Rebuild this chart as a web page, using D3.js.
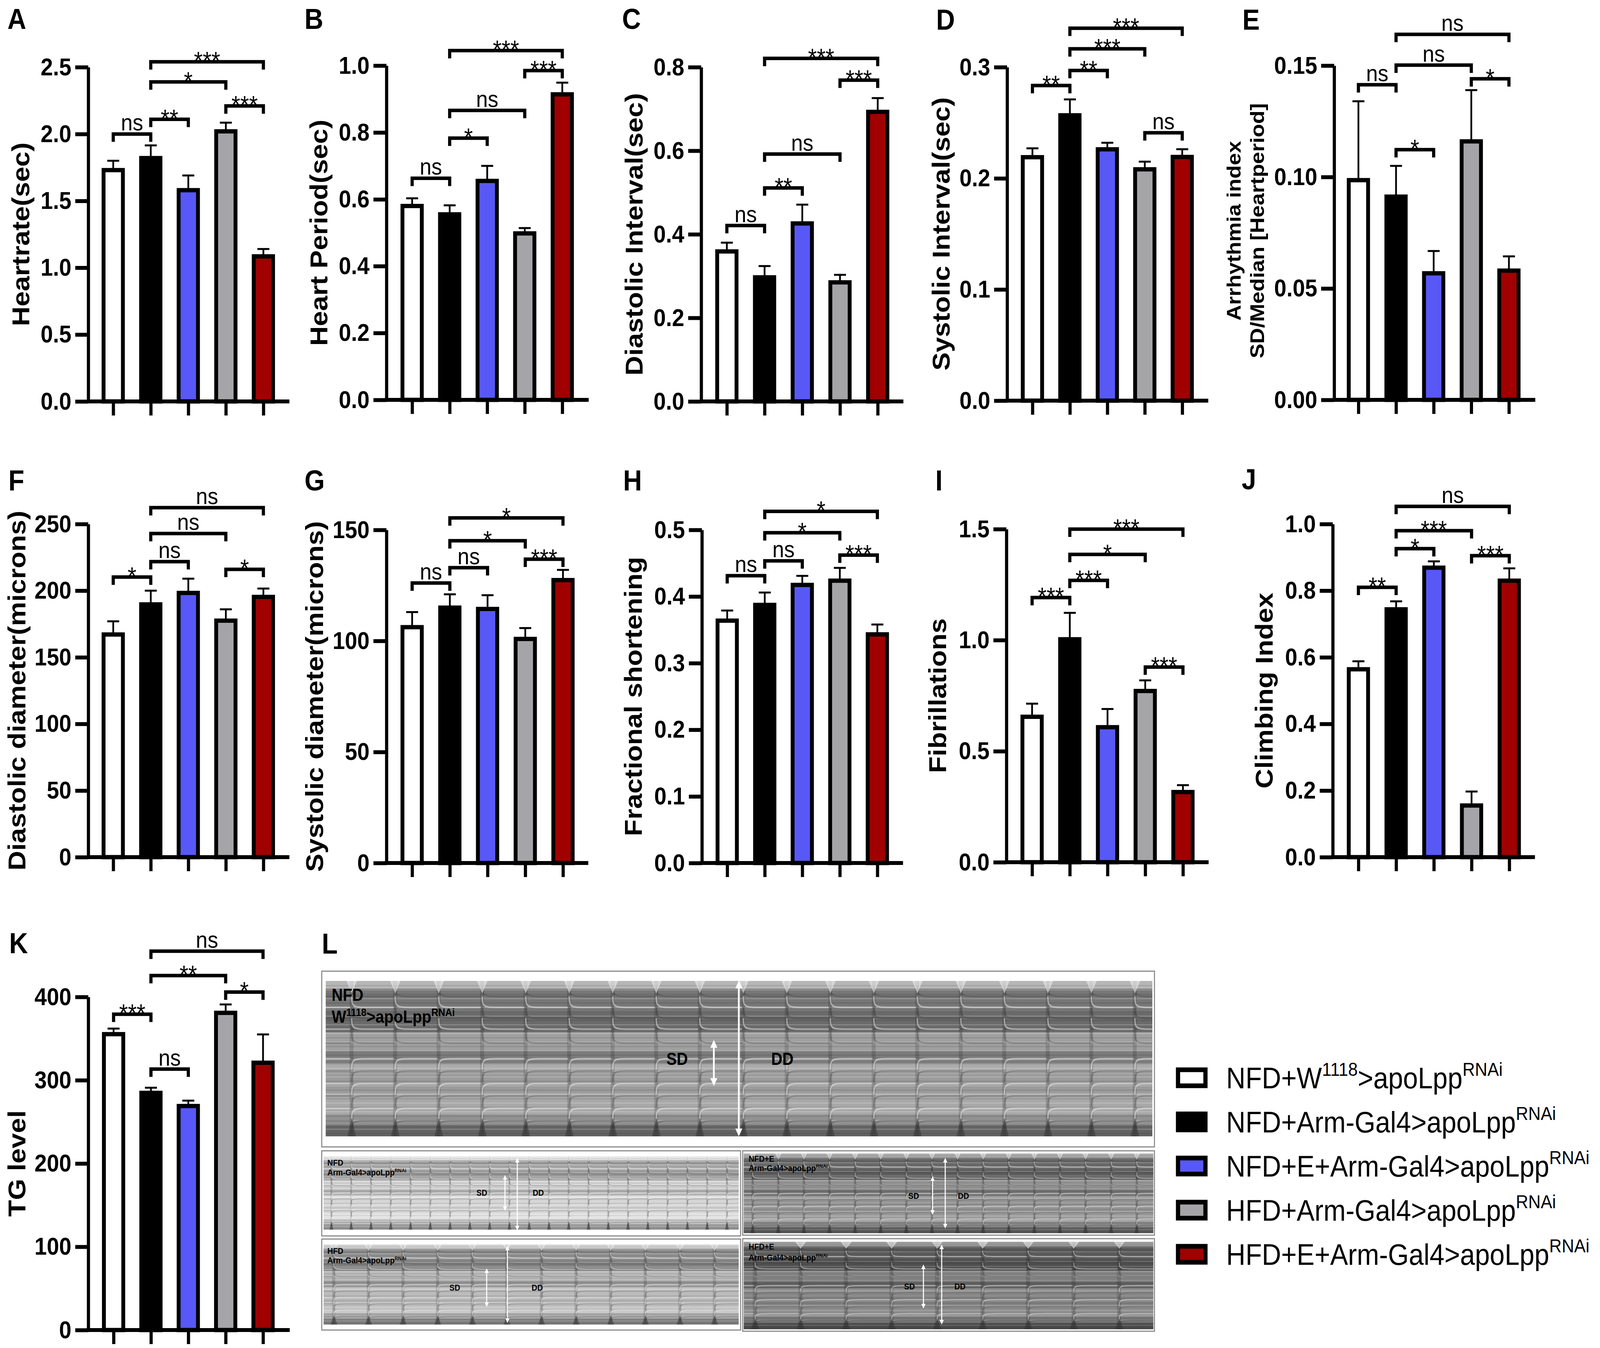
<!DOCTYPE html>
<html>
<head>
<meta charset="utf-8">
<script src="https://cdn.jsdelivr.net/npm/d3@7"></script>
<style>
  html, body { margin: 0; padding: 0; background: #fff; overflow: hidden; }
  svg { display: block; width: 100vw; height: 100vh; }
</style>
</head>
<body>
<div id="fig"></div>
<script>
// ---- groups (bar order, same in every panel) ----
const groupColors = ['#ffffff', '#000000', '#5858f6', '#a5a5a8', '#a00000'];
const legendLabels = [
  [['NFD+W', 0], ['1118', 1], ['>apoLpp', 0], ['RNAi', 1]],
  [['NFD+Arm-Gal4>apoLpp', 0], ['RNAi', 1]],
  [['NFD+E+Arm-Gal4>apoLpp', 0], ['RNAi', 1]],
  [['HFD+Arm-Gal4>apoLpp', 0], ['RNAi', 1]],
  [['HFD+E+Arm-Gal4>apoLpp', 0], ['RNAi', 1]]
];

// ---- values (mean, SEM, significance brackets [from, to, level, label]) ----
const heartrateMean = [1.73, 1.82, 1.58, 2.02, 1.085];
const heartrateSem = [0.07, 0.095, 0.11, 0.065, 0.055];
const heartrateSig = [[0, 1, 2.0, 'ns'], [1, 2, 2.11, '**'], [1, 3, 2.39, '*'], [3, 4, 2.21, '***'], [1, 4, 2.54, '***']];

const periodMean = [0.58, 0.555, 0.655, 0.498, 0.914];
const periodSem = [0.023, 0.027, 0.045, 0.016, 0.035];
const periodSig = [[0, 1, 0.663, 'ns'], [1, 2, 0.783, '*'], [1, 3, 0.866, 'ns'], [3, 4, 0.985, '***'], [1, 4, 1.045, '***']];

const diastIntMean = [0.359, 0.297, 0.426, 0.285, 0.693];
const diastIntSem = [0.021, 0.027, 0.045, 0.018, 0.033];
const diastIntSig = [[0, 1, 0.421, 'ns'], [1, 2, 0.511, '**'], [1, 3, 0.592, 'ns'], [3, 4, 0.769, '***'], [1, 4, 0.821, '***']];

const systIntMean = [0.219, 0.2567, 0.2261, 0.2081, 0.2192];
const systIntSem = [0.008, 0.0143, 0.0059, 0.0069, 0.007];
const systIntSig = [[0, 1, 0.2835, '**'], [1, 2, 0.297, '**'], [1, 3, 0.3165, '***'], [3, 4, 0.241, 'ns'], [1, 4, 0.335, '***']];

const arrhythmiaMean = [0.0986, 0.0912, 0.0568, 0.116, 0.058];
const arrhythmiaSem = [0.0354, 0.0138, 0.01, 0.023, 0.0064];
const arrhythmiaSig = [[0, 1, 0.1414, 'ns'], [1, 2, 0.1123, '*'], [1, 3, 0.1502, 'ns'], [3, 4, 0.1441, '*'], [1, 4, 0.164, 'ns']];

const diastDiamMean = [167.1, 189.7, 198.3, 177.5, 195.3];
const diastDiamSem = [9.9, 10.3, 10.7, 8.5, 6.3];
const diastDiamSig = [[0, 1, 210.2, '*'], [1, 2, 221.8, 'ns'], [1, 3, 242.9, 'ns'], [3, 4, 216, '*'], [1, 4, 262.3, 'ns']];

const systDiamMean = [106.2, 115, 114.4, 100.9, 127.4];
const systDiamSem = [6.8, 6, 6.2, 4.9, 4.6];
const systDiamSig = [[0, 1, 126.1, 'ns'], [1, 2, 133, 'ns'], [1, 3, 145.1, '*'], [3, 4, 136.8, '***'], [1, 4, 155.4, '*']];

const fracShortMean = [0.3638, 0.3874, 0.4174, 0.4238, 0.3432];
const fracShortSem = [0.0152, 0.0186, 0.0136, 0.0192, 0.0148];
const fracShortSig = [[0, 1, 0.4313, 'ns'], [1, 2, 0.4536, 'ns'], [1, 3, 0.4957, '*'], [3, 4, 0.4622, '***'], [1, 4, 0.5279, '*']];

const fibrilMean = [0.655, 1.004, 0.608, 0.771, 0.316];
const fibrilSem = [0.059, 0.119, 0.082, 0.048, 0.031];
const fibrilSig = [[0, 1, 1.192, '***'], [1, 2, 1.269, '***'], [1, 3, 1.386, '*'], [3, 4, 0.879, '***'], [1, 4, 1.5, '***']];

const climbMean = [0.564, 0.744, 0.869, 0.155, 0.830];
const climbSem = [0.024, 0.024, 0.019, 0.042, 0.037];
const climbSig = [[0, 1, 0.81, '**'], [1, 2, 0.926, '*'], [1, 3, 0.98, '***'], [3, 4, 0.905, '***'], [1, 4, 1.053, 'ns']];

const tgMean = [355.3, 284.8, 269, 380.9, 321];
const tgSem = [6.7, 6.2, 6.5, 10.1, 34];
const tgSig = [[0, 1, 379.3, '***'], [1, 2, 313.4, 'ns'], [1, 3, 425.7, '**'], [3, 4, 405.9, '*'], [1, 4, 455, 'ns']];

// ---- panels: data + where they sit on the page ----
const panels = [
  { id: 'A', title: ['Heartrate(sec)'], mean: heartrateMean, sem: heartrateSem, sig: heartrateSig, max: 2.5, step: 0.5, fmt: '.1f',
    axisX: 251, x0: 322, x1: 749, xEnd: 823, y0: 1028, yTop: 172, labelDx: -193, letter: [21, 74] },
  { id: 'B', title: ['Heart Period(sec)'], mean: periodMean, sem: periodSem, sig: periodSig, max: 1.0, step: 0.2, fmt: '.1f',
    axisX: 1099, x0: 1172, x1: 1599, xEnd: 1674, y0: 1024, yTop: 168, labelDx: -193, letter: [866, 74] },
  { id: 'C', title: ['Diastolic Interval(sec)'], mean: diastIntMean, sem: diastIntSem, sig: diastIntSig, max: 0.8, step: 0.2, fmt: '.1f',
    axisX: 1994, x0: 2067, x1: 2496, xEnd: 2569, y0: 1028, yTop: 172, labelDx: -192, letter: [1769, 74] },
  { id: 'D', title: ['Systolic Interval(sec)'], mean: systIntMean, sem: systIntSem, sig: systIntSig, max: 0.3, step: 0.1, fmt: '.1f',
    axisX: 2864, x0: 2936, x1: 3362, xEnd: 3436, y0: 1026, yTop: 172, labelDx: -189, letter: [2662, 76] },
  { id: 'E', title: ['Arrhythmia index', 'SD/Median [Heartperiod]'], mean: arrhythmiaMean, sem: arrhythmiaSem, sig: arrhythmiaSig, max: 0.15, step: 0.05, fmt: '.2f',
    axisX: 3794, x0: 3863, x1: 4291, xEnd: 4366, y0: 1024, yTop: 168, labelDx: -291, letter: [3533, 76] },
  { id: 'F', title: ['Diastolic diameter(microns)'], mean: diastDiamMean, sem: diastDiamSem, sig: diastDiamSig, max: 250, step: 50, fmt: 'd',
    axisX: 251, x0: 322, x1: 749, xEnd: 823, y0: 2195, yTop: 1342, labelDx: -204, letter: [24, 1256] },
  { id: 'G', title: ['Systolic diameter(microns)'], mean: systDiamMean, sem: systDiamSem, sig: systDiamSig, max: 150, step: 50, fmt: 'd',
    axisX: 1099, x0: 1172, x1: 1601, xEnd: 1673, y0: 2210, yTop: 1357, labelDx: -205, letter: [866, 1256] },
  { id: 'H', title: ['Fractional shortening'], mean: fracShortMean, sem: fracShortSem, sig: fracShortSig, max: 0.5, step: 0.1, fmt: '.1f',
    axisX: 1996, x0: 2068, x1: 2495, xEnd: 2568, y0: 2210, yTop: 1357, labelDx: -196, letter: [1772, 1256] },
  { id: 'I', title: ['Fibrillations'], mean: fibrilMean, sem: fibrilSem, sig: fibrilSig, max: 1.5, step: 0.5, fmt: '.1f',
    axisX: 2862, x0: 2935, x1: 3364, xEnd: 3437, y0: 2208, yTop: 1355, labelDx: -197, letter: [2660, 1256] },
  { id: 'J', title: ['Climbing Index'], mean: climbMean, sem: climbSem, sig: climbSig, max: 1.0, step: 0.2, fmt: '.1f',
    axisX: 3790, x0: 3863, x1: 4292, xEnd: 4365, y0: 2195, yTop: 1342, labelDx: -196, letter: [3531, 1253] },
  { id: 'K', title: ['TG level'], mean: tgMean, sem: tgSem, sig: tgSig, max: 400, step: 100, fmt: 'd',
    axisX: 251, x0: 323, x1: 748, xEnd: 824, y0: 3406, yTop: 2553, labelDx: -204, letter: [26, 2441] }
];

// ---- panel L: kymograph strips ----
const kymoPanels = [
  { id: 'k0', frame: [915, 2487, 2368, 450], img: [926, 2512, 2351, 398], beats: 19, phase: 0.6, tone: 0, small: false,
    label: ['NFD', 'W'], sup1: '1118', lab: [943, 2563, 2619], sd: [1895, 2727], dd: [2193, 2727],
    sdArrow: [2030, 2667, 2777], ddArrow: [2101, 2515, 2906] },
  { id: 'k1', frame: [915, 2947, 1191, 218], img: [920, 2961, 1181, 188], beats: 21, phase: 0.4, tone: 20, small: true,
    label: ['NFD', 'Arm-Gal4'], sup1: null, lab: [931, 2985, 3010], sd: [1355, 3062], dd: [1515, 3062],
    sdArrow: [1436, 3009, 3101], ddArrow: [1471, 2965, 3151] },
  { id: 'k2', frame: [2112, 2947, 1171, 216], img: [2115, 2954, 1165, 204], beats: 16, phase: 0.35, tone: -4, small: true,
    label: ['NFD+E', 'Arm-Gal4'], sup1: null, lab: [2129, 2975, 2999], sd: [2583, 3070], dd: [2724, 3070],
    sdArrow: [2652, 3012, 3111], ddArrow: [2688, 2965, 3146] },
  { id: 'k3', frame: [915, 3173, 1191, 233], img: [920, 3187, 1181, 205], beats: 12, phase: 0.3, tone: 10, small: true,
    label: ['HFD', 'Arm-Gal4'], sup1: null, lab: [931, 3211, 3235], sd: [1278, 3305], dd: [1512, 3305],
    sdArrow: [1384, 3248, 3347], ddArrow: [1443, 3190, 3388] },
  { id: 'k4', frame: [2112, 3172, 1171, 237], img: [2115, 3180, 1165, 224], beats: 9, phase: 0.25, tone: -10, small: true,
    label: ['HFD+E', 'Arm-Gal4'], sup1: null, lab: [2129, 3200, 3228], sd: [2571, 3302], dd: [2714, 3302],
    sdArrow: [2626, 3238, 3351], ddArrow: [2678, 3187, 3392] }
];
// lightness of the horizontal tissue bands, top to bottom
const kymoBands = [[0, 0.05, 74], [0.05, 0.2, 50], [0.2, 0.33, 45], [0.33, 0.45, 66], [0.45, 0.53, 52],
                   [0.53, 0.6, 70], [0.6, 0.72, 64], [0.72, 0.86, 69], [0.86, 0.93, 60], [0.93, 1, 42]];
const kymoCurves = [0.1, 0.17, 0.24, 0.31, 0.4, 0.5, 0.58, 0.66, 0.74, 0.82, 0.9];

const FONT = '"Liberation Sans", Arial, Helvetica, sans-serif';
const W = 4550, H = 3452;

const svg = d3.select('#fig').append('svg')
  .attr('viewBox', `0 0 ${W} ${H}`)
  .attr('preserveAspectRatio', 'none')
  .style('font-family', FONT);

svg.append('rect').attr('width', W).attr('height', H).attr('fill', '#fff');
const defs = svg.append('defs');

// ---- bar panels ----
panels.forEach(p => {
  const g = svg.append('g').attr('class', 'panel-' + p.id);
  const y = d3.scaleLinear().domain([0, p.max]).range([p.y0, p.yTop]);
  const x = d3.scalePoint().domain(d3.range(5)).range([p.x0, p.x1]);
  const barW = 55;

  // bars
  g.selectAll('rect.bar').data(p.mean).join('rect')
    .attr('class', 'bar')
    .attr('x', (d, i) => x(i) - barW / 2)
    .attr('y', d => y(d))
    .attr('width', barW)
    .attr('height', d => y(0) - y(d))
    .attr('fill', (d, i) => groupColors[i])
    .attr('stroke', '#000')
    .attr('stroke-width', 11);

  // error bars (upper half)
  g.selectAll('line.err').data(p.mean).join('line')
    .attr('x1', (d, i) => x(i)).attr('x2', (d, i) => x(i))
    .attr('y1', d => y(d) - 5)
    .attr('y2', (d, i) => y(d + p.sem[i]))
    .attr('stroke', '#000').attr('stroke-width', 5);
  g.selectAll('line.cap').data(p.mean).join('line')
    .attr('x1', (d, i) => x(i) - 17).attr('x2', (d, i) => x(i) + 17)
    .attr('y1', (d, i) => y(d + p.sem[i]))
    .attr('y2', (d, i) => y(d + p.sem[i]))
    .attr('stroke', '#000').attr('stroke-width', 5);

  // y axis
  const ticks = d3.range(0, p.max + p.step / 2, p.step);
  const ya = g.append('g')
    .attr('transform', `translate(${p.axisX},0)`)
    .call(d3.axisLeft(y).tickValues(ticks).tickFormat(d3.format(p.fmt))
      .tickSize(37).tickSizeOuter(0).tickPadding(11));
  ya.selectAll('path.domain').attr('stroke-width', 9).attr('stroke', '#000');
  ya.selectAll('.tick line').attr('stroke-width', 10).attr('stroke', '#000');
  ya.selectAll('.tick text')
    .attr('font-family', FONT).attr('font-size', 63).attr('font-weight', 'bold').attr('fill', '#000');
  ya.attr('font-size', null).attr('font-family', null);

  // x axis: baseline + tick marks, no labels
  g.append('line')
    .attr('x1', p.axisX - 4.5).attr('x2', p.xEnd)
    .attr('y1', y(0)).attr('y2', y(0))
    .attr('stroke', '#000').attr('stroke-width', 10);
  const xa = g.append('g')
    .attr('transform', `translate(0,${y(0)})`)
    .call(d3.axisBottom(x).tickSize(36).tickSizeOuter(0).tickFormat(''));
  xa.select('path.domain').remove();
  xa.selectAll('.tick line').attr('stroke-width', 9).attr('stroke', '#000');

  // significance brackets
  p.sig.forEach(([a, b, lvl, lab]) => {
    const ly = y(lvl);
    g.append('path')
      .attr('d', `M${x(a)},${ly + 20} V${ly} H${x(b)} V${ly + 20}`)
      .attr('fill', 'none').attr('stroke', '#000').attr('stroke-width', 9);
    const star = lab.includes('*');
    g.append('text')
      .attr('x', (x(a) + x(b)) / 2)
      .attr('y', star ? ly + 20 : ly - 9)
      .attr('text-anchor', 'middle')
      .attr('font-size', star ? 64 : 60)
      .attr('fill', '#000')
      .text(lab);
  });

  // y axis title (rotated)
  const cy = (p.y0 + p.yTop) / 2;
  if (p.title.length === 1) {
    g.append('text')
      .attr('transform', `translate(${p.axisX + p.labelDx + 25},${cy}) rotate(-90)`)
      .attr('text-anchor', 'middle')
      .attr('font-size', 70).attr('font-weight', 'bold')
      .text(p.title[0]);
  } else {
    p.title.forEach((t, i) => {
      g.append('text')
        .attr('transform', `translate(${p.axisX + p.labelDx + 25 + i * 67},${cy - 5}) rotate(-90)`)
        .attr('text-anchor', 'middle')
        .attr('font-size', 56).attr('font-weight', 'bold')
        .text(t);
    });
  }

  // panel letter
  g.append('text')
    .attr('x', p.letter[0]).attr('y', p.letter[1])
    .attr('font-size', 74).attr('font-weight', 'bold')
    .text(p.id);
});

// ---- panel L ----
svg.append('text').attr('x', 915).attr('y', 2442)
  .attr('font-size', 74).attr('font-weight', 'bold').text('L');

defs.append('marker').attr('id', 'arrowhead')
  .attr('viewBox', '0 0 10 10').attr('refX', 5).attr('refY', 5)
  .attr('markerWidth', 4).attr('markerHeight', 4)
  .attr('orient', 'auto-start-reverse')
  .append('path').attr('d', 'M0,0 L10,5 L0,10 Z').attr('fill', '#fff');

kymoPanels.forEach(k => {
  const g = svg.append('g').attr('class', 'kymo-' + k.id);
  const [fx, fy, fw, fh] = k.frame;
  const [ix, iy, iw, ih] = k.img;

  g.append('rect').attr('x', fx).attr('y', fy).attr('width', fw).attr('height', fh)
    .attr('fill', '#fff').attr('stroke', '#8a8a8a').attr('stroke-width', 3);

  defs.append('clipPath').attr('id', 'clip-' + k.id)
    .append('rect').attr('x', ix).attr('y', iy).attr('width', iw).attr('height', ih);
  const kg = g.append('g').attr('clip-path', `url(#clip-${k.id})`);
  const yb = d3.scaleLinear().domain([0, 1]).range([iy, iy + ih]);

  kymoBands.forEach(([a, b, l]) => {
    kg.append('rect').attr('x', ix).attr('y', yb(a)).attr('width', iw).attr('height', yb(b) - yb(a) + 1)
      .attr('fill', d3.gray(Math.max(10, Math.min(92, l + k.tone))));
  });
  // fine horizontal striations
  d3.range(0.03, 1, 0.028).forEach((f, i) => {
    kg.append('line').attr('x1', ix).attr('x2', ix + iw).attr('y1', yb(f)).attr('y2', yb(f))
      .attr('stroke', i % 2 ? '#fff' : '#000')
      .attr('stroke-opacity', i % 2 ? 0.2 : 0.1)
      .attr('stroke-width', k.small ? 2 : 3);
  });

  // beats
  const period = iw / k.beats;
  const beatX = d3.range(-1, k.beats + 1).map(i => ix + (i + k.phase) * period);
  beatX.forEach(bx => {
    kg.append('rect').attr('x', bx - period * 0.05).attr('y', iy).attr('width', period * 0.09).attr('height', ih)
      .attr('fill', '#000').attr('opacity', 0.14);
    kymoCurves.forEach((f, j) => {
      const yA = yb(f + (f < 0.5 ? -0.07 : 0.07));
      const yB = yb(f);
      kg.append('path')
        .attr('d', `M${bx},${yA} C${bx},${yB} ${bx + period * 0.04},${yB} ${bx + period * 0.4},${yB} L${bx + period * 0.97},${yB}`)
        .attr('fill', 'none')
        .attr('stroke', j % 2 ? '#fff' : '#222')
        .attr('stroke-opacity', j % 2 ? 0.45 : 0.25)
        .attr('stroke-width', k.small ? 2.5 : 4);
    });
    // dark notch at the bottom, light notch at the top
    kg.append('path')
      .attr('d', `M${bx - period * 0.1},${iy + ih} L${bx},${yb(0.88)} L${bx + period * 0.1},${iy + ih} Z`)
      .attr('fill', '#333').attr('opacity', 0.5);
    kg.append('path')
      .attr('d', `M${bx - period * 0.12},${iy} L${bx},${yb(0.08)} L${bx + period * 0.12},${iy} Z`)
      .attr('fill', '#eee').attr('opacity', 0.6);
  });

  // labels
  const fsLab = k.small ? 22 : 44;
  g.append('text').attr('x', k.lab[0]).attr('y', k.lab[1])
    .attr('font-size', fsLab).attr('font-weight', 'bold').text(k.label[0]);
  const t2 = g.append('text').attr('x', k.lab[0]).attr('y', k.lab[2])
    .attr('font-size', fsLab).attr('font-weight', 'bold');
  t2.append('tspan').text(k.label[1]);
  if (k.sup1) t2.append('tspan').attr('font-size', fsLab * 0.62).attr('dy', -fsLab * 0.38).text(k.sup1);
  t2.append('tspan').attr('dy', k.sup1 ? fsLab * 0.38 : 0).text('>apoLpp');
  t2.append('tspan').attr('font-size', fsLab * 0.62).attr('dy', -fsLab * 0.38).text('RNAi');

  const fsSD = k.small ? 22 : 44;
  g.append('text').attr('x', k.sd[0]).attr('y', k.sd[1]).attr('font-size', fsSD).attr('font-weight', 'bold').text('SD');
  g.append('text').attr('x', k.dd[0]).attr('y', k.dd[1]).attr('font-size', fsSD).attr('font-weight', 'bold').text('DD');

  [k.sdArrow, k.ddArrow].forEach(([ax, a0, a1]) => {
    g.append('line').attr('x1', ax).attr('x2', ax).attr('y1', a0 + 6).attr('y2', a1 - 6)
      .attr('stroke', '#fff').attr('stroke-width', k.small ? 3 : 5)
      .attr('marker-start', 'url(#arrowhead)').attr('marker-end', 'url(#arrowhead)');
  });
});

// ---- legend ----
const legend = svg.append('g').attr('class', 'legend');
legendLabels.forEach((parts, i) => {
  const cy = 2760 + i * 113;
  legend.append('rect')
    .attr('x', 3350).attr('y', cy - 20.5).attr('width', 78).attr('height', 41)
    .attr('fill', groupColors[i]).attr('stroke', '#000').attr('stroke-width', 12);
  const t = legend.append('text').attr('x', 3487).attr('y', cy + 27).attr('font-size', 76);
  let raised = false;
  parts.forEach(([s, sup]) => {
    const ts = t.append('tspan').text(s);
    if (sup && !raised) { ts.attr('font-size', 49).attr('dy', -32); raised = true; }
    else if (!sup && raised) { ts.attr('dy', 32); raised = false; }
    else if (sup) ts.attr('font-size', 49);
  });
});
</script>
</body>
</html>
